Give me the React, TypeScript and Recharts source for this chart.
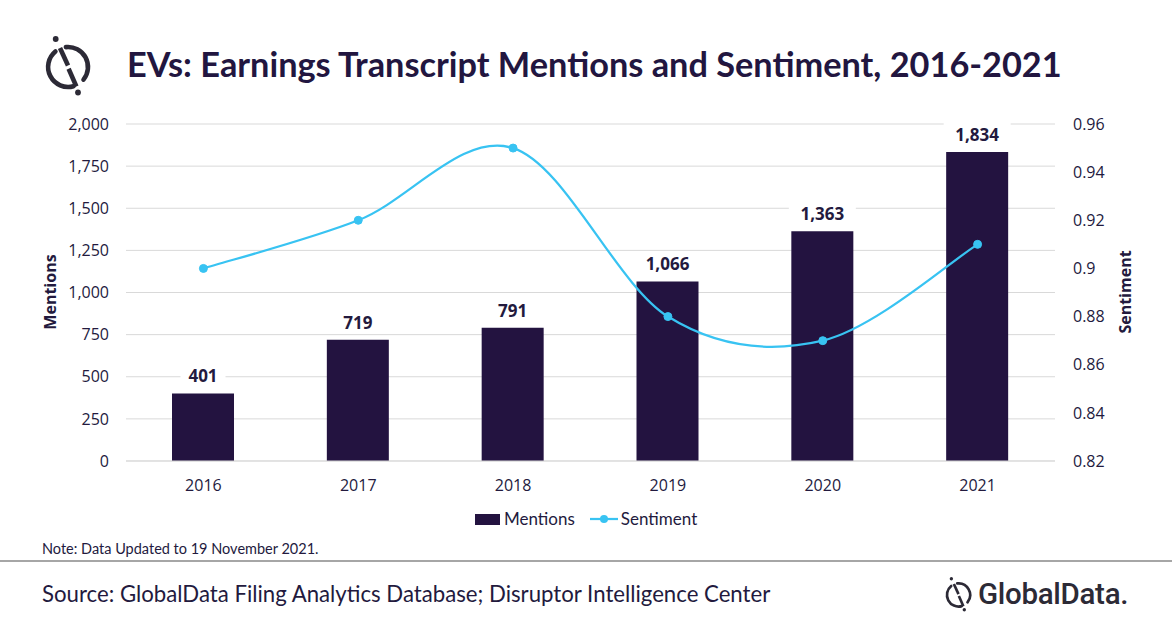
import React from "react"
import { ComposedChart, Bar, Line, XAxis, YAxis, CartesianGrid, LabelList } from "recharts"

const years = ["2016", "2017", "2018", "2019", "2020", "2021"]
const mentions = [401, 719, 791, 1066, 1363, 1834]
const sentiment = [0.9, 0.92, 0.95, 0.88, 0.87, 0.91]
const mentionTicks = [0, 250, 500, 750, 1000, 1250, 1500, 1750, 2000]
const sentimentTicks = [0.82, 0.84, 0.86, 0.88, 0.9, 0.92, 0.94, 0.96]

const NAVY = "#231340"
const SKY = "#38c3f2"
const INK = "#231a3e"
const TICK_FONT = "'Open Sans', sans-serif"
const NARROW_FONT = "Lato, sans-serif"

// Excel-style smoothed line (uniform Catmull-Rom through every point)
const excelSmooth = (context: any) => {
  let pts: [number, number][] = []
  return {
    areaStart() {},
    areaEnd() {},
    lineStart() {
      pts = []
    },
    point(x: number, y: number) {
      pts.push([x, y])
    },
    lineEnd() {
      if (pts.length === 0) return
      context.moveTo(pts[0][0], pts[0][1])
      for (let i = 0; i < pts.length - 1; i++) {
        const p0 = pts[Math.max(i - 1, 0)]
        const p1 = pts[i]
        const p2 = pts[i + 1]
        const p3 = pts[Math.min(i + 2, pts.length - 1)]
        context.bezierCurveTo(
          p1[0] + (p2[0] - p0[0]) / 6,
          p1[1] + (p2[1] - p0[1]) / 6,
          p2[0] - (p3[0] - p1[0]) / 6,
          p2[1] - (p3[1] - p1[1]) / 6,
          p2[0],
          p2[1]
        )
      }
    },
  }
}

const BarValueLabel = (props: any) => {
  const { x, y, width, value } = props
  const text = Number(value).toLocaleString("en-US")
  const cx = x + width / 2
  const boxW = text.length * 11 + 12
  return (
    <g>
      <rect x={cx - boxW / 2} y={y - 30} width={boxW} height={24} fill="#fff" />
      <text
        x={cx}
        y={y - 11}
        textAnchor="middle"
        fontFamily={TICK_FONT}
        fontWeight={700}
        fontSize={17}
        fill={INK}
      >
        {text}
      </text>
    </g>
  )
}

// round mark: broken ring crossed by a split diagonal, dot at each end
function MarkIcon({ size, color }: { size: number; color: string }) {
  return (
    <svg width={size} height={size * 1.2} viewBox="0 0 50 60">
      <g fill="none" stroke={color} strokeWidth={4.6}>
        <path d="M 12.4 15.5 A 20 20 0 0 0 30.5 50.2" strokeLinecap="round" />
        <path d="M 22.9 11.1 A 20 20 0 0 1 40.5 43.6" strokeLinecap="round" />
        <path d="M 17 12 L 25 29.5" />
        <path d="M 25.6 32.8 L 33.4 50.5" />
      </g>
      <circle cx={12.7} cy={3} r={2.9} fill={color} />
      <circle cx={35} cy={56.5} r={2.9} fill={color} />
    </svg>
  )
}

export default function App() {
  const data = years.map((year, i) => ({
    year,
    mentions: mentions[i],
    sentiment: sentiment[i],
  }))

  return (
    <div
      style={{
        position: "absolute",
        left: 0,
        top: 0,
        width: 1172,
        height: 628,
        background: "#fff",
        overflow: "hidden",
        color: INK,
      }}
    >
      <div style={{ position: "absolute", left: 43, top: 35.5 }}>
        <MarkIcon size={50} color="#2c2a36" />
      </div>
      <div
        style={{
          position: "absolute",
          left: 127,
          top: 42,
          fontFamily: NARROW_FONT,
          fontWeight: 700,
          fontSize: 34.3,
          lineHeight: "44px",
          whiteSpace: "nowrap",
          color: "#221640",
        }}
      >
        EVs: Earnings Transcript Mentions and Sentiment, 2016-2021
      </div>

      <div style={{ position: "absolute", left: 0, top: 0 }}>
        <ComposedChart
          width={1172}
          height={511}
          data={data}
          margin={{ top: 124, right: 0, bottom: 20, left: 0 }}
        >
          <CartesianGrid vertical={false} stroke="#d9d9d9" yAxisId="left" />
          <XAxis
            dataKey="year"
            axisLine={{ stroke: "#d9d9d9" }}
            tickLine={false}
            tickMargin={13}
            tick={{ fontFamily: TICK_FONT, fontSize: 16, fill: INK }}
          />
          <YAxis
            yAxisId="left"
            width={126}
            domain={[0, 2000]}
            ticks={mentionTicks}
            axisLine={false}
            tickLine={false}
            tickMargin={11}
            tickFormatter={(v: number) => v.toLocaleString("en-US")}
            tick={{ fontFamily: TICK_FONT, fontSize: 16, fill: INK }}
          />
          <YAxis
            yAxisId="right"
            orientation="right"
            width={117}
            domain={[0.82, 0.96]}
            ticks={sentimentTicks}
            axisLine={false}
            tickLine={false}
            tickMargin={12}
            tick={{ fontFamily: TICK_FONT, fontSize: 16, fill: INK }}
          />
          <Bar yAxisId="left" dataKey="mentions" fill={NAVY} barSize={62} isAnimationActive={false}>
            <LabelList dataKey="mentions" content={BarValueLabel} />
          </Bar>
          <Line
            yAxisId="right"
            dataKey="sentiment"
            type={excelSmooth as any}
            stroke={SKY}
            strokeWidth={2.25}
            dot={{ r: 4, fill: SKY, stroke: SKY, strokeWidth: 1 }}
            activeDot={false}
            isAnimationActive={false}
          />
        </ComposedChart>
      </div>

      <div
        style={{
          position: "absolute",
          left: 50,
          top: 292,
          transform: "translate(-50%, -50%) rotate(-90deg)",
          fontFamily: TICK_FONT,
          fontWeight: 700,
          fontSize: 16,
          whiteSpace: "nowrap",
        }}
      >
        Mentions
      </div>
      <div
        style={{
          position: "absolute",
          left: 1125,
          top: 292,
          transform: "translate(-50%, -50%) rotate(-90deg)",
          fontFamily: TICK_FONT,
          fontWeight: 700,
          fontSize: 16,
          whiteSpace: "nowrap",
        }}
      >
        Sentiment
      </div>

      <div
        style={{
          position: "absolute",
          left: 475,
          top: 508,
          display: "flex",
          alignItems: "center",
          fontFamily: NARROW_FONT,
          fontSize: 17,
          lineHeight: "22px",
        }}
      >
        <span style={{ width: 25, height: 11, background: NAVY, display: "inline-block" }} />
        <span style={{ marginLeft: 4 }}>Mentions</span>
        <svg width={30} height={12} style={{ marginLeft: 14 }}>
          <line x1={1} y1={6} x2={29} y2={6} stroke={SKY} strokeWidth={2.25} />
          <circle cx={15} cy={6} r={4} fill={SKY} />
        </svg>
        <span style={{ marginLeft: 2 }}>Sentiment</span>
      </div>

      <div
        style={{
          position: "absolute",
          left: 42,
          top: 540,
          fontFamily: NARROW_FONT,
          fontSize: 14.5,
          whiteSpace: "nowrap",
        }}
      >
        Note: Data Updated to 19 November 2021.
      </div>
      <div style={{ position: "absolute", left: 0, top: 560, width: 1172, height: 2, background: "#a6a6a6" }} />
      <div
        style={{
          position: "absolute",
          left: 42,
          top: 579,
          fontFamily: NARROW_FONT,
          fontSize: 22.2,
          lineHeight: "30px",
          whiteSpace: "nowrap",
        }}
      >
        Source: GlobalData Filing Analytics Database; Disruptor Intelligence Center
      </div>
      <div style={{ position: "absolute", left: 944, top: 577, display: "flex", alignItems: "center" }}>
        <MarkIcon size={29} color="#2c2a36" />
        <span
          style={{
            marginLeft: 5,
            fontFamily: "Roboto, sans-serif",
            fontWeight: 500,
            fontSize: 29.5,
            letterSpacing: -0.3,
            color: "#2c2a36",
          }}
        >
          GlobalData.
        </span>
      </div>
    </div>
  )
}
